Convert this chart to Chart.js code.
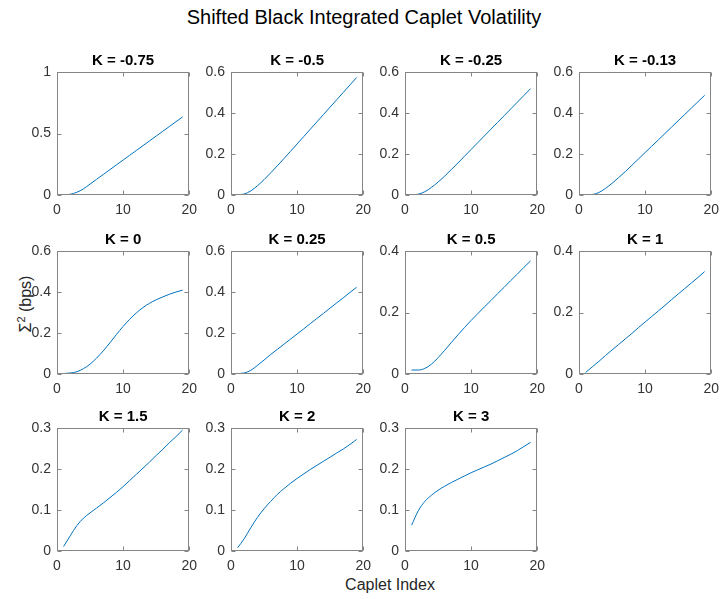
<!DOCTYPE html>
<html>
<head>
<meta charset="utf-8">
<script src="https://cdn.jsdelivr.net/npm/chart.js@4.4.1/dist/chart.umd.min.js"></script>
<style>
  body { margin: 0; background: #fff; }
  #fig { position: relative; width: 720px; height: 599px; overflow: hidden; font-family: "Liberation Sans", Arial, sans-serif; }
  #fig canvas { position: absolute; }
  .txt { position: absolute; white-space: nowrap; color: #000; }
  #suptitle { left: 364px; top: 7px; font-size: 20px; line-height: 20px; transform: translateX(-50%); }
  #xlabel { left: 390px; top: 577px; font-size: 16px; line-height: 16px; transform: translateX(-50%); color: #262626; }
  #ylabel { left: 26px; top: 304px; font-size: 16px; line-height: 16px; transform: translate(-50%, -50%) rotate(-90deg); color: #262626; }
  #ylabel sup { font-size: 11px; line-height: 0; }
</style>
</head>
<body>
<div id="fig">
  <div class="txt" id="suptitle">Shifted Black Integrated Caplet Volatility</div>
  <div class="txt" id="ylabel">&Sigma;<sup>2</sup> (bps)</div>
  <div class="txt" id="xlabel">Caplet Index</div>
</div>
<script>
var capletIndex = [1, 2, 3, 4, 5, 6, 7, 8, 9, 10, 11, 12, 13, 14, 15, 16, 17, 18, 19];
var strikes = ["-0.75", "-0.5", "-0.25", "-0.13", "0", "0.25", "0.5", "1", "1.5", "2", "3"];

var volNeg075 = [0.000, 0.006, 0.022, 0.050, 0.089, 0.128, 0.167, 0.206, 0.245, 0.284, 0.323, 0.362, 0.401, 0.440, 0.479, 0.518, 0.557, 0.596, 0.635];
var volNeg050 = [0.000, 0.005, 0.020, 0.045, 0.075, 0.108, 0.142, 0.177, 0.213, 0.249, 0.285, 0.321, 0.357, 0.393, 0.429, 0.465, 0.501, 0.537, 0.573];
var volNeg025 = [0.000, 0.004, 0.016, 0.037, 0.063, 0.092, 0.124, 0.156, 0.189, 0.222, 0.255, 0.288, 0.321, 0.354, 0.387, 0.420, 0.453, 0.486, 0.519];
var volNeg013 = [0.000, 0.002, 0.012, 0.032, 0.057, 0.085, 0.114, 0.145, 0.176, 0.207, 0.238, 0.269, 0.300, 0.331, 0.362, 0.393, 0.424, 0.455, 0.486];
var volZero   = [0.002, 0.005, 0.011, 0.026, 0.048, 0.078, 0.113, 0.152, 0.193, 0.232, 0.267, 0.298, 0.324, 0.345, 0.362, 0.376, 0.389, 0.400, 0.409];
var volPos025 = [0.002, 0.005, 0.018, 0.042, 0.068, 0.095, 0.120, 0.145, 0.170, 0.195, 0.220, 0.246, 0.271, 0.296, 0.322, 0.347, 0.372, 0.398, 0.423];
var volPos050 = [0.013, 0.013, 0.018, 0.032, 0.053, 0.077, 0.102, 0.127, 0.151, 0.174, 0.196, 0.218, 0.239, 0.261, 0.282, 0.304, 0.325, 0.347, 0.368];
var volPos100 = [0.005, 0.023, 0.041, 0.060, 0.078, 0.096, 0.114, 0.132, 0.151, 0.169, 0.187, 0.205, 0.223, 0.242, 0.260, 0.278, 0.296, 0.314, 0.333];
var volPos150 = [0.011, 0.037, 0.062, 0.080, 0.093, 0.105, 0.117, 0.130, 0.143, 0.157, 0.172, 0.187, 0.202, 0.217, 0.233, 0.248, 0.264, 0.279, 0.295];
var volPos200 = [0.008, 0.030, 0.057, 0.082, 0.103, 0.121, 0.138, 0.152, 0.165, 0.177, 0.188, 0.199, 0.209, 0.219, 0.229, 0.239, 0.249, 0.260, 0.272];
var volPos300 = [0.063, 0.098, 0.121, 0.136, 0.148, 0.158, 0.167, 0.175, 0.183, 0.191, 0.198, 0.205, 0.212, 0.220, 0.228, 0.236, 0.245, 0.255, 0.265];

var series = [volNeg075, volNeg050, volNeg025, volNeg013, volZero, volPos025, volPos050, volPos100, volPos150, volPos200, volPos300];
var yMax = [1, 0.6, 0.6, 0.6, 0.6, 0.6, 0.4, 0.4, 0.3, 0.3, 0.3];
var yStep = [0.5, 0.2, 0.2, 0.2, 0.2, 0.2, 0.2, 0.2, 0.1, 0.1, 0.1];

// subplot grid: axes boxes in page pixels
var colLeft = [57, 231, 405, 579];
var rowTop = [72, 251, 428];
var boxW = 133, boxH = 124;
var FONT = "'Liberation Sans', Arial, sans-serif";

// plain tick text: 1 rather than 1.0
function tickText(v) {
  return String(Math.round(v * 100) / 100);
}

// box round the axes plus inward tick marks on all four sides
var boxTicks = {
  id: "boxTicks",
  afterDraw: function (chart) {
    var ctx = chart.ctx, a = chart.chartArea, xs = chart.scales.x, ys = chart.scales.y;
    var L = Math.round(a.left) + 0.5, R = Math.round(a.right) - 0.5;
    var T = Math.round(a.top) + 0.5, B = Math.round(a.bottom) - 0.5;
    ctx.save();
    ctx.strokeStyle = "#858585";
    ctx.lineWidth = 1;
    ctx.strokeRect(L, T, R - L, B - T);
    ctx.beginPath();
    xs.ticks.forEach(function (t) {
      var px = Math.round(xs.getPixelForValue(t.value)) + 0.5;
      ctx.moveTo(px, B); ctx.lineTo(px, B - 4);
      ctx.moveTo(px, T); ctx.lineTo(px, T + 4);
    });
    ys.ticks.forEach(function (t) {
      var py = Math.round(ys.getPixelForValue(t.value)) + 0.5;
      ctx.moveTo(L, py); ctx.lineTo(L + 4, py);
      ctx.moveTo(R, py); ctx.lineTo(R - 4, py);
    });
    ctx.stroke();
    ctx.restore();
  }
};

var fig = document.getElementById("fig");

series.forEach(function (vals, i) {
  var col = i % 4, row = Math.floor(i / 4);
  var canvas = document.createElement("canvas");
  canvas.width = 40 + boxW + 14;
  canvas.height = 24 + boxH + 26;
  fig.appendChild(canvas);

  var chart = new Chart(canvas, {
    type: "line",
    data: {
      datasets: [{
        data: capletIndex.map(function (x, j) { return { x: x, y: vals[j] }; }),
        borderColor: "#0072BD",
        borderWidth: 1,
        pointRadius: 0,
        cubicInterpolationMode: "monotone",
        fill: false
      }]
    },
    options: {
      responsive: false,
      animation: false,
      devicePixelRatio: 1,
      events: [],
      layout: { padding: { left: 0, right: 14, top: 0, bottom: 0 } },
      plugins: {
        legend: { display: false },
        tooltip: { enabled: false },
        title: {
          display: true,
          text: "K = " + strikes[i],
          color: "#000",
          fullSize: false,
          font: { family: FONT, size: 15, weight: "bold", lineHeight: 1 },
          padding: { top: 6, bottom: 4 }
        }
      },
      scales: {
        x: {
          type: "linear",
          min: 0,
          max: 20,
          afterFit: function (s) { s.height = 26; },
          ticks: { stepSize: 10, color: "#333", padding: 7, maxRotation: 0, callback: tickText, font: { family: FONT, size: 14 } },
          grid: { display: false, drawTicks: false },
          border: { display: false }
        },
        y: {
          min: 0,
          max: yMax[i],
          afterFit: function (s) { s.width = 40; },
          ticks: { stepSize: yStep[i], color: "#333", padding: 6, callback: tickText, font: { family: FONT, size: 14 } },
          grid: { display: false, drawTicks: false },
          border: { display: false }
        }
      }
    },
    plugins: [boxTicks]
  });

  var a = chart.chartArea;
  canvas.style.left = (colLeft[col] - a.left) + "px";
  canvas.style.top = (rowTop[row] - a.top) + "px";
});
</script>
</body>
</html>
